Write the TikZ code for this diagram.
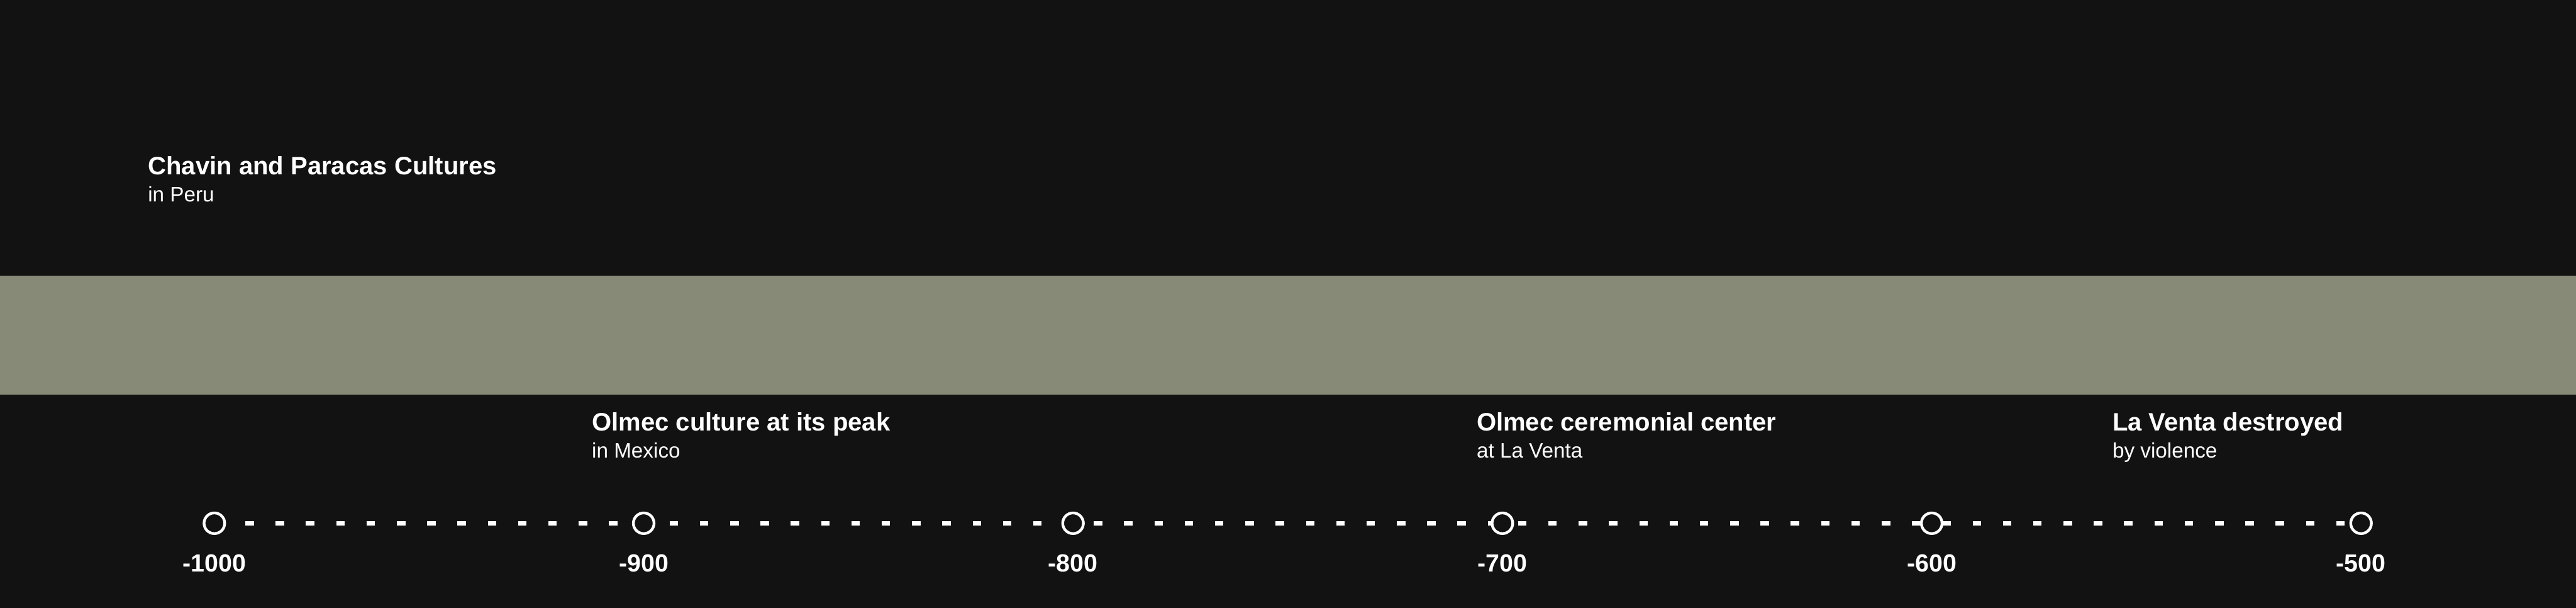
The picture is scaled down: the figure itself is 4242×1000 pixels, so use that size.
\documentclass[tikz,border=0pt]{standalone}
\usepackage{fontspec}
\setmainfont{Liberation Sans}
\usetikzlibrary{positioning}
\definecolor{bgdark}{HTML}{121212}
\definecolor{bandgray}{HTML}{878A77}
\pgfdeclarelayer{back}
\pgfsetlayers{back,main}

\begin{document}
\begin{tikzpicture}[
    x=0.01cm, y=0.01cm,
    every node/.style={text=white, inner sep=0pt},
    headline/.style={anchor=base west, font=\fontsize{11.8}{14}\selectfont\bfseries},
    subline/.style={anchor=base west, font=\fontsize{9.8}{12}\selectfont},
    yearmark/.style={circle, draw=white, fill=bgdark, line width=0.045cm, minimum size=0.34cm},
    yearlabel/.style={anchor=base, font=\fontsize{11.6}{14}\selectfont\bfseries}
]

% Background
\begin{pgfonlayer}{back}
\fill [bgdark] (0,0) rectangle (4242,1000);
\end{pgfonlayer}

% Period band
\fill [bandgray] (0,351) rectangle (4242,546);

% Event above the band
\node [headline] (chavin) at (243,713) {Chavin and Paracas Cultures};
\node [subline] (chavin-sub) at (243,668) {in Peru};

% Events below the band
\node [headline] (olmec) at (974,291) {Olmec culture at its peak};
\node [subline] (olmec-sub) at (974,247) {in Mexico};

\node [headline] (venta) at (2431,291) {Olmec ceremonial center};
\node [subline] (venta-sub) at (2431,247) {at La Venta};

\node [headline] (end) at (3478,291) {La Venta destroyed};
\node [subline] (end-sub) at (3478,247) {by violence};

% Axis marks and years
\foreach \yr/\x in {1000/353, 900/1060, 800/1767, 700/2474, 600/3181, 500/3888} {
  \node [yearmark] (y\yr) at (\x,139) {};
  \node [yearlabel] (l\yr) at (\x,59) {-\yr};
}

% Dashed axis line
\begin{pgfonlayer}{back}
\draw [white, line width=0.07cm, dash pattern=on 0.14cm off 0.3587cm, dash phase=0.4874cm] (y1000.center) -- (y500.center);
\end{pgfonlayer}

\end{tikzpicture}
\end{document}
